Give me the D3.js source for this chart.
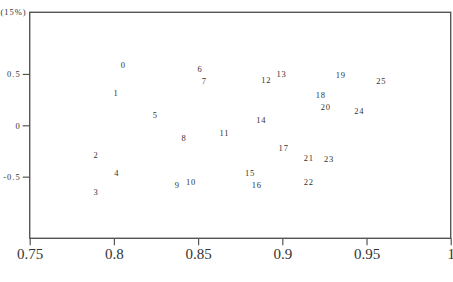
<!DOCTYPE html>
<html><head><meta charset="utf-8">
<script src="https://cdn.jsdelivr.net/npm/d3@7"></script>
<style>body{margin:0;background:#fff}svg{display:block}</style>
</head><body>
<svg id="c" width="453" height="282"></svg>
<script>
const labels = ["0","1","2","3","4","5","6","7","8","9","10","11","12","13","14","15","16","17","18","19","20","21","22","23","24","25"];
const xVals = [0.8056,0.8012,0.7894,0.7894,0.8017,0.8246,0.8511,0.8537,0.8416,0.8376,0.8458,0.8656,0.8905,0.8996,0.8875,0.8808,0.8848,0.9008,0.9228,0.9347,0.9258,0.9157,0.9157,0.9277,0.9457,0.9588];
const yVals = [0.591,0.315,-0.292,-0.652,-0.464,0.100,0.545,0.428,-0.120,-0.577,-0.552,-0.071,0.441,0.500,0.049,-0.464,-0.581,-0.221,0.292,0.487,0.178,-0.318,-0.552,-0.331,0.136,0.428];
const xTicks = [0.75,0.8,0.85,0.9,0.95,1];
const xTickLabels = ["0.75","0.8","0.85","0.9","0.95","1"];
const yTicks = [0.5,0,-0.5];
const yTickLabels = ["0.5","0","-0.5"];
const yAxisTitle = "(15%)";

const svg = d3.select("#c");
const L = 29.7, R = 450.7, T = 12.3, B = 238.3;
const x = d3.scaleLinear().domain([0.75,1]).range([L,R]);
const y = d3.scaleLinear().domain([-1.1,1.1]).range([B,T]);
const col = "#555";

// frame
svg.append("rect").attr("x",L).attr("y",T).attr("width",R-L).attr("height",B-T)
  .attr("fill","none").attr("stroke",col).attr("stroke-width",1.4);

// x axis
const xa = svg.append("g").attr("transform",`translate(0,${B})`)
  .call(d3.axisBottom(x).tickValues(xTicks).tickFormat((d,i)=>xTickLabels[i]).tickSize(7).tickPadding(3));
xa.select(".domain").remove();
xa.selectAll("line").attr("stroke",col).attr("stroke-width",1.2);
xa.selectAll("text").attr("font-family","Liberation Serif, serif").attr("font-size",15).attr("fill","#333");

// y axis
const ya = svg.append("g").attr("transform",`translate(${L},0)`)
  .call(d3.axisLeft(y).tickValues(yTicks).tickFormat((d,i)=>yTickLabels[i]).tickSize(7).tickPadding(2));
ya.select(".domain").remove();
ya.selectAll("line").attr("stroke",col).attr("stroke-width",1.2);
ya.selectAll("text").attr("font-family","Liberation Serif, serif").attr("font-size",8.5).attr("letter-spacing","1px").attr("fill","#333");

svg.append("text").attr("x",L-3).attr("y",T).attr("dy","0.35em").attr("text-anchor","end")
  .attr("font-family","Liberation Serif, serif").attr("font-size",8.5).attr("letter-spacing","1px").attr("fill","#333")
  .text(yAxisTitle);

// point labels
svg.append("g").selectAll("text").data(labels).join("text")
  .attr("x",(d,i)=>x(xVals[i])).attr("y",(d,i)=>y(yVals[i])).attr("dy","0.35em")
  .attr("text-anchor","middle")
  .attr("font-family","Liberation Serif, serif").attr("font-size",8.5).attr("letter-spacing","0.8px")
  .attr("fill","#333").text(d=>d);
</script>
</body></html>
